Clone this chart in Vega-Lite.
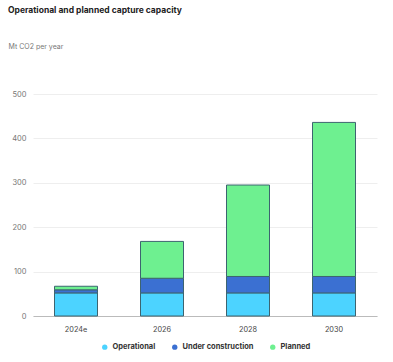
{
  "$schema": "https://vega.github.io/schema/vega-lite/v6.json",
  "width": 344,
  "height": 222,
  "autosize": {"type": "none"},
  "padding": {"left": 33, "top": 94, "right": 16, "bottom": 46},
  "title": {
    "text": "Operational and planned capture capacity",
    "anchor": "start",
    "frame": "group",
    "dx": -25,
    "offset": 28,
    "font": "Inter",
    "fontSize": 8.5,
    "fontWeight": "bold",
    "color": "#222222"
  },
  "data": {
    "values": [
      {"year": "2024e", "status": "Operational", "ord": 1, "value": 52},
      {"year": "2024e", "status": "Under construction", "ord": 2, "value": 7},
      {"year": "2024e", "status": "Planned", "ord": 3, "value": 8},
      {"year": "2026", "status": "Operational", "ord": 1, "value": 52},
      {"year": "2026", "status": "Under construction", "ord": 2, "value": 33},
      {"year": "2026", "status": "Planned", "ord": 3, "value": 83},
      {"year": "2028", "status": "Operational", "ord": 1, "value": 52},
      {"year": "2028", "status": "Under construction", "ord": 2, "value": 37},
      {"year": "2028", "status": "Planned", "ord": 3, "value": 206},
      {"year": "2030", "status": "Operational", "ord": 1, "value": 52},
      {"year": "2030", "status": "Under construction", "ord": 2, "value": 37},
      {"year": "2030", "status": "Planned", "ord": 3, "value": 347}
    ]
  },
  "mark": {"type": "bar", "stroke": "#3d6470", "strokeWidth": 1},
  "encoding": {
    "x": {
      "field": "year",
      "type": "nominal",
      "sort": null,
      "scale": {"paddingInner": 0.5, "paddingOuter": 0.25},
      "axis": {
        "title": null,
        "labelAngle": 0,
        "ticks": false,
        "domainColor": "#bbbbbb",
        "labelColor": "#444444",
        "labelFont": "Inter",
        "labelFontSize": 7.3,
        "labelPadding": 9
      }
    },
    "y": {
      "field": "value",
      "type": "quantitative",
      "stack": "zero",
      "scale": {"domain": [0, 500]},
      "axis": {
        "values": [0, 100, 200, 300, 400, 500],
        "title": "Mt CO2 per year",
        "titleAngle": 0,
        "titleAlign": "left",
        "titleBaseline": "middle",
        "titleX": -25,
        "titleY": -48,
        "titleFont": "Inter",
        "titleFontSize": 7,
        "titleFontWeight": "normal",
        "titleColor": "#777777",
        "domain": false,
        "ticks": false,
        "gridColor": "#eeeeee",
        "labelColor": "#777777",
        "labelFont": "Inter",
        "labelFontSize": 7.5,
        "labelPadding": 7
      }
    },
    "color": {
      "field": "status",
      "type": "nominal",
      "scale": {
        "domain": ["Operational", "Under construction", "Planned"],
        "range": ["#4cd3ff", "#3b70d2", "#6ef090"]
      },
      "legend": {
        "title": null,
        "orient": "none",
        "legendX": 68,
        "legendY": 249,
        "direction": "horizontal",
        "symbolType": "circle",
        "symbolSize": 28,
        "symbolStrokeWidth": 0,
        "labelFont": "Inter",
        "labelFontSize": 7.5,
        "labelFontWeight": "bold",
        "labelColor": "#333333",
        "labelOffset": 4,
        "columnPadding": 15
      }
    },
    "order": {"field": "ord", "type": "quantitative"}
  },
  "config": {"view": {"stroke": null}}
}
